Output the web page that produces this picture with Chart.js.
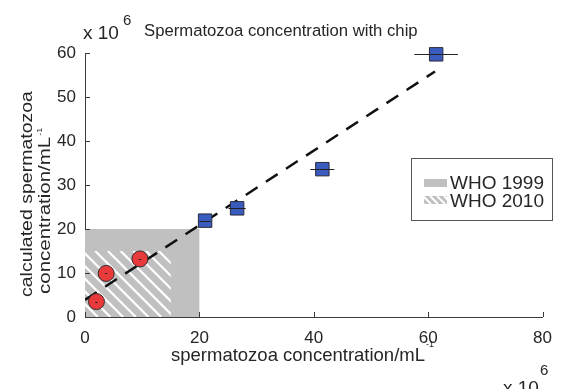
<!DOCTYPE html>
<html>
<head>
<meta charset="utf-8">
<script src="https://cdn.jsdelivr.net/npm/chart.js@4/dist/chart.umd.min.js"></script>
<style>
  html, body { margin: 0; padding: 0; background: #fff; }
  #wrap { width: 563px; height: 389px; }
</style>
</head>
<body>
<div id="wrap"><canvas id="chipChart" width="563" height="389"></canvas></div>
<script>
// measured vs. calculated concentration (x 10^6 / mL)
const lowX = [2.0, 3.7, 9.6];
const lowY = [3.5, 9.9, 13.2];
const lowErr = [0.2, 0.2, 0.2];

const highX = [21.0, 26.6, 41.5, 61.4];
const highY = [21.9, 24.7, 33.6, 59.7];
const highErr = [1.0, 1.5, 2.1, 3.8];

// linear fit
const fitX = [0, 61.2];
const fitY = [3.9, 55.8];

// WHO reference ranges
const who1999X = [0, 20];
const who1999Y = [0, 20];
const who2010X = [0, 15];
const who2010Y = [0, 15];

const xTicks = [0, 20, 40, 60, 80];
const yTicks = [0, 10, 20, 30, 40, 50, 60];

const FONT = "'Liberation Sans', Arial, sans-serif";
const TEXT = '#262626';
const AXIS = '#3a3a3a';
const GRAY = '#c0c0c0';

function toPoints(xs, ys) {
  return xs.map((x, i) => ({ x: x, y: ys[i] }));
}

function hatch(ctx, left, top, right, bottom, spacing, width) {
  ctx.save();
  ctx.beginPath();
  ctx.rect(left, top, right - left, bottom - top);
  ctx.clip();
  ctx.strokeStyle = '#ffffff';
  ctx.lineWidth = width;
  const h = bottom - top;
  for (let s = left - h - spacing; s < right + spacing; s += spacing) {
    ctx.beginPath();
    ctx.moveTo(s, top);
    ctx.lineTo(s + h, bottom);
    ctx.stroke();
  }
  ctx.restore();
}

// shaded WHO regions behind the data
const regionsPlugin = {
  id: 'regions',
  beforeDatasetsDraw(chart) {
    const { ctx, scales: { x, y } } = chart;
    ctx.save();
    ctx.fillStyle = GRAY;
    const l = x.getPixelForValue(who1999X[0]), r = x.getPixelForValue(who1999X[1]);
    const b = y.getPixelForValue(who1999Y[0]), t = y.getPixelForValue(who1999Y[1]);
    ctx.fillRect(l, t, r - l, b - t);
    hatch(ctx, x.getPixelForValue(who2010X[0]), y.getPixelForValue(who2010Y[1]),
      x.getPixelForValue(who2010X[1]), y.getPixelForValue(who2010Y[0]), 12.7, 2.2);
    ctx.restore();
  }
};

// horizontal error bars, inward ticks, labels and legend
const decorPlugin = {
  id: 'decor',
  afterDatasetsDraw(chart) {
    const { ctx, scales: { x, y } } = chart;
    ctx.save();
    ctx.strokeStyle = '#222';
    ctx.lineWidth = 1;
    const bars = [[lowX, lowY, lowErr], [highX, highY, highErr]];
    bars.forEach(([xs, ys, es]) => {
      xs.forEach((v, i) => {
        const py = Math.round(y.getPixelForValue(ys[i])) + 0.5;
        ctx.beginPath();
        ctx.moveTo(x.getPixelForValue(v - es[i]), py);
        ctx.lineTo(x.getPixelForValue(v + es[i]), py);
        ctx.stroke();
      });
    });
    ctx.restore();
  },
  afterDraw(chart) {
    const { ctx, scales: { x, y } } = chart;
    const x0 = x.getPixelForValue(0), y0 = y.getPixelForValue(0);
    ctx.save();
    ctx.strokeStyle = AXIS;
    ctx.lineWidth = 1;
    xTicks.forEach(v => {
      const px = Math.round(x.getPixelForValue(v)) + 0.5;
      ctx.beginPath();
      ctx.moveTo(px, y0);
      ctx.lineTo(px, y0 - 5);
      ctx.stroke();
    });
    yTicks.forEach(v => {
      const py = Math.round(y.getPixelForValue(v)) + 0.5;
      ctx.beginPath();
      ctx.moveTo(x0, py);
      ctx.lineTo(x0 + 5, py);
      ctx.stroke();
    });

    ctx.fillStyle = TEXT;
    ctx.textBaseline = 'alphabetic';
    ctx.textAlign = 'left';

    // title and exponent markers
    ctx.font = '16.7px ' + FONT;
    ctx.fillText('Spermatozoa concentration with chip', 144, 36);
    ctx.font = '19px ' + FONT;
    ctx.fillText('x 10', 83, 39);
    ctx.fillText('x 10', 503, 394);
    ctx.font = '15px ' + FONT;
    ctx.fillText('6', 123, 25);
    ctx.fillText('6', 540, 375);

    // x axis title
    ctx.font = '18.5px ' + FONT;
    const xt = 'spermatozoa concentration/mL';
    const xw = ctx.measureText(xt).width;
    const xs = 171;
    ctx.fillText(xt, xs, 361);
    ctx.font = '9px ' + FONT;
    ctx.fillText('-1', xs + xw + 1, 347);

    // y axis title, two rotated lines
    ctx.save();
    ctx.rotate(-Math.PI / 2);
    ctx.scale(1, 0.82);
    ctx.font = '19.5px ' + FONT;
    ctx.fillText('calculated spermatozoa', -297, 32 / 0.82);
    ctx.font = '20.5px ' + FONT;
    const yt = 'concentration/mL';
    const yw = ctx.measureText(yt).width;
    ctx.fillText(yt, -294, 50 / 0.82);
    ctx.font = '9px ' + FONT;
    ctx.fillText('-1', -294 + yw + 1, 42 / 0.82);
    ctx.restore();

    // legend
    ctx.fillStyle = '#fff';
    ctx.fillRect(411.5, 158.5, 141, 62);
    ctx.strokeStyle = '#555';
    ctx.strokeRect(411.5, 158.5, 141, 62);
    ctx.fillStyle = GRAY;
    ctx.fillRect(424, 179, 23, 8);
    ctx.fillRect(424, 196, 23, 8);
    hatch(ctx, 424, 196, 447, 204, 7, 2);
    ctx.fillStyle = TEXT;
    ctx.font = '19px ' + FONT;
    ctx.fillText('WHO 1999', 450, 189);
    ctx.fillText('WHO 2010', 450, 207);
    ctx.restore();
  }
};

const ctx = document.getElementById('chipChart').getContext('2d');
new Chart(ctx, {
  type: 'scatter',
  data: {
    datasets: [
      {
        label: 'calibrated high',
        data: toPoints(highX, highY),
        pointStyle: 'rect',
        pointRadius: 9.5,
        backgroundColor: '#3a5cbf',
        borderColor: '#2a2a3a',
        borderWidth: 1,
        clip: false,
        order: 1
      },
      {
        label: 'calibrated low',
        data: toPoints(lowX, lowY),
        pointStyle: 'circle',
        pointRadius: 8,
        backgroundColor: '#e83a3a',
        borderColor: '#3a2a2a',
        borderWidth: 1,
        clip: false,
        order: 2
      },
      {
        type: 'line',
        label: 'fit',
        data: toPoints(fitX, fitY),
        borderColor: '#111',
        borderWidth: 2.5,
        borderDash: [14, 10],
        pointRadius: 0,
        fill: false,
        order: 3
      }
    ]
  },
  options: {
    responsive: false,
    animation: false,
    layout: { padding: { top: 53, right: 12, left: 0, bottom: 0 } },
    plugins: {
      legend: { display: false },
      tooltip: { enabled: false }
    },
    scales: {
      x: {
        type: 'linear',
        min: 0,
        max: 80,
        afterFit(scale) { scale.height = 72; },
        afterBuildTicks(scale) { scale.ticks = xTicks.map(v => ({ value: v })); },
        grid: { display: false, drawTicks: false },
        border: { display: true, color: AXIS, width: 1 },
        ticks: { font: { family: FONT, size: 17 }, color: TEXT, padding: 11, maxRotation: 0 }
      },
      y: {
        type: 'linear',
        min: 0,
        max: 60,
        afterFit(scale) { scale.width = 85; },
        afterBuildTicks(scale) { scale.ticks = yTicks.map(v => ({ value: v })); },
        grid: { display: false, drawTicks: false },
        border: { display: true, color: AXIS, width: 1 },
        ticks: { font: { family: FONT, size: 17 }, color: TEXT, padding: 9 }
      }
    }
  },
  plugins: [regionsPlugin, decorPlugin]
});
</script>
</body>
</html>
